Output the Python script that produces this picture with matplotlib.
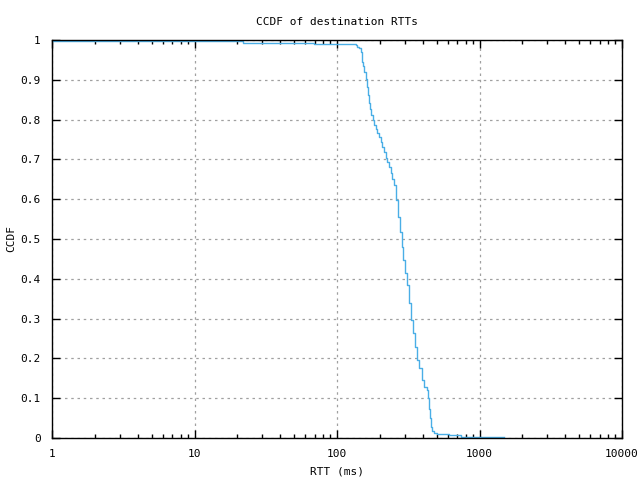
import matplotlib
matplotlib.use("Agg")
import matplotlib.pyplot as plt
from matplotlib.ticker import LogLocator, FixedLocator, NullFormatter

# -- data (step curve, CCDF of RTT) --
rtt_ms = [1.0, 8.2, 21.8, 69.5, 135.0, 138.7, 143.2, 146.3, 148.7, 150.4,
          152.8, 155.3, 158.6, 161.2, 163.8, 166.4, 169.1, 172.8, 177.7,
          181.5, 186.6, 191.8, 196.8, 202.3, 207.9, 213.3, 220.3, 225.4,
          231.3, 237.7, 244.3, 250.7, 260.6, 269.2, 276.2, 284.0, 291.9,
          301.4, 311.6, 321.9, 330.4, 341.2, 352.4, 366.4, 378.4, 392.7,
          407.5, 425.7, 432.7, 441.8, 449.0, 454.1, 461.5, 479.4, 506.0,
          611.0, 738.0, 1489.0]
ccdf = [0.998, 0.9967, 0.993, 0.989, 0.987, 0.983, 0.979, 0.971, 0.958,
        0.945, 0.935, 0.919, 0.901, 0.883, 0.862, 0.841, 0.827, 0.812,
        0.799, 0.786, 0.776, 0.766, 0.756, 0.744, 0.732, 0.719, 0.703,
        0.694, 0.680, 0.665, 0.652, 0.636, 0.598, 0.556, 0.518, 0.480,
        0.447, 0.414, 0.384, 0.338, 0.296, 0.263, 0.229, 0.196, 0.175,
        0.146, 0.129, 0.121, 0.100, 0.072, 0.049, 0.028, 0.018, 0.013,
        0.009, 0.007, 0.003, 0.0017]

x_ticks = [1, 10, 100, 1000, 10000]
x_labels = ["1", "10", "100", "1000", "10000"]
y_ticks = [0, 0.1, 0.2, 0.3, 0.4, 0.5, 0.6, 0.7, 0.8, 0.9, 1]
y_labels = ["0", "0.1", "0.2", "0.3", "0.4", "0.5", "0.6", "0.7", "0.8", "0.9", "1"]

FONT = "DejaVu Sans Mono"
plt.rcParams["font.family"] = [FONT]
plt.rcParams["font.size"] = 8

fig = plt.figure(figsize=(6.4, 4.8), dpi=100, facecolor="white")
ax = fig.add_axes([52 / 640, 1 - 438 / 480, 570 / 640, 398 / 480])

ax.step(rtt_ms, ccdf, where="post", color="#4aaee6", linewidth=1.0)

ax.set_xscale("log")
ax.set_xlim(1, 10000)
ax.set_ylim(0, 1)
ax.set_xticks(x_ticks)
ax.set_xticklabels(x_labels)
ax.xaxis.set_minor_locator(LogLocator(base=10, subs=range(2, 10), numticks=20))
ax.xaxis.set_minor_formatter(NullFormatter())
ax.yaxis.set_major_locator(FixedLocator(y_ticks))
ax.set_yticklabels(y_labels)

ax.tick_params(which="both", direction="in", top=True, right=True,
               color="black", width=1.0)
ax.tick_params(which="major", length=6, pad=8)
ax.tick_params(which="minor", length=3)
for s in ax.spines.values():
    s.set_linewidth(1.0)

ax.grid(True, which="major", color="#a0a0a0", linestyle=(0, (2, 3)),
        linewidth=0.9)
ax.set_axisbelow(True)

ax.set_title("CCDF of destination RTTs", fontsize=8, pad=11)
ax.set_xlabel("RTT (ms)", fontsize=8, labelpad=5)
ax.set_ylabel("CCDF", fontsize=8, labelpad=3)

fig.savefig("out.png", dpi=100)
